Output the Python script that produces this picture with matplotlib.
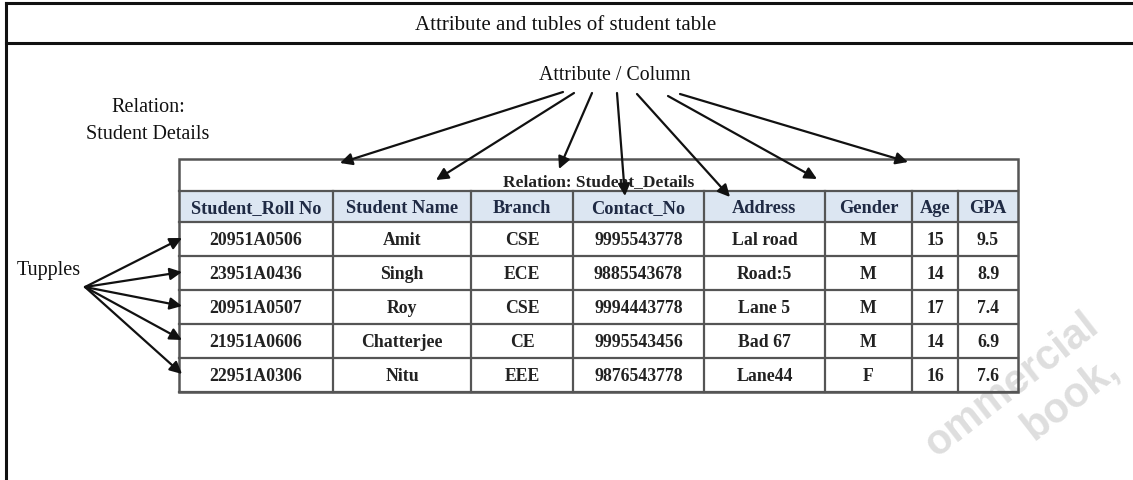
import matplotlib
matplotlib.use("Agg")
import matplotlib.pyplot as plt
from matplotlib.patches import Rectangle

# ---------------- data ----------------
title = "Attribute and tubles of student table"
relation_caption = "Relation: Student_Details"
columns = ["Student_Roll No", "Student Name", "Branch", "Contact_No",
           "Address", "Gender", "Age", "GPA"]
roll_no = ["20951A0506", "23951A0436", "20951A0507", "21951A0606", "22951A0306"]
names = ["Amit", "Singh", "Roy", "Chatterjee", "Nitu"]
branch = ["CSE", "ECE", "CSE", "CE", "EEE"]
contact = ["9995543778", "9885543678", "9994443778", "9995543456", "9876543778"]
address = ["Lal road", "Road:5", "Lane 5", "Bad 67", "Lane44"]
gender = ["M", "M", "M", "M", "F"]
age = ["15", "14", "17", "14", "16"]
gpa = ["9.5", "8.9", "7.4", "6.9", "7.6"]

# ---------------- layout (pixels) ----------------
W, H = 1133, 481
fig = plt.figure(figsize=(W / 100, H / 100), dpi=100)
ax = fig.add_axes([0, 0, 1, 1])
ax.set_xlim(0, W)
ax.set_ylim(H, 0)
ax.axis("off")

SERIF = ["Liberation Serif", "DejaVu Serif"]

# faint watermark (behind everything)
wm = ["Liberation Sans", "DejaVu Sans"]
ax.text(1012, 385, "ommercial", family=wm, fontsize=30, fontweight="bold", rotation=38,
        ha="center", va="center", color="#dedede", zorder=0)
ax.text(1070, 398, "book,", family=wm, fontsize=30, fontweight="bold", rotation=38,
        ha="center", va="center", color="#dedede", zorder=0)

# outer frame
ax.plot([6, 6], [4, H], color="#111", lw=2.2)
ax.plot([6, W], [4, 4], color="#111", lw=2.2)
ax.plot([6, W], [44, 44], color="#111", lw=2.2)
ax.text(566, 26, title, family=SERIF, fontsize=15, ha="center", va="center", color="#111")

# table geometry
col_x = [179, 333, 471, 573, 704, 825, 912, 958, 1018]
t_top, hdr_top = 160, 192
row_y = [223, 257, 291, 325, 359, 393]

# header fill
ax.add_patch(Rectangle((col_x[0], hdr_top), col_x[-1] - col_x[0], row_y[0] - hdr_top,
                       facecolor="#dce6f2", edgecolor="none", zorder=1))
line_c = "#555"
ax.add_patch(Rectangle((col_x[0], t_top), col_x[-1] - col_x[0], row_y[-1] - t_top,
                       facecolor="none", edgecolor=line_c, lw=1.8, zorder=3))
for y in [hdr_top] + row_y:
    ax.plot([col_x[0], col_x[-1]], [y, y], color=line_c, lw=1.6, zorder=3)
for x in col_x[1:-1]:
    ax.plot([x, x], [hdr_top, row_y[-1]], color=line_c, lw=1.6, zorder=3)

ax.text((col_x[0] + col_x[-1]) / 2, 182, relation_caption, family=SERIF, fontsize=12.5,
        fontweight="bold", ha="center", va="center", color="#222", zorder=4)

for i, c in enumerate(columns):
    ax.text((col_x[i] + col_x[i + 1]) / 2, (hdr_top + row_y[0]) / 2 + 1, c, family=SERIF,
            fontsize=13.2, fontweight="bold", ha="center", va="center", color="#1f2a44", zorder=4)

data_cols = [roll_no, names, branch, contact, address, gender, age, gpa]
for r in range(len(roll_no)):
    yc = (row_y[r] + row_y[r + 1]) / 2 + 1
    for j, col in enumerate(data_cols):
        ax.text((col_x[j] + col_x[j + 1]) / 2, yc, col[r], family=SERIF, fontsize=12.8,
                fontweight="bold", ha="center", va="center", color="#222", zorder=4)

# labels
ax.text(615, 76, "Attribute / Column", family=SERIF, fontsize=14.3, ha="center",
        va="center", color="#111")
ax.text(148, 107, "Relation:", family=SERIF, fontsize=14.5, ha="center", va="center", color="#111")
ax.text(148, 135, "Student Details", family=SERIF, fontsize=14.5, ha="center", va="center", color="#111")
ax.text(17, 271, "Tupples", family=SERIF, fontsize=14.5, ha="left", va="center", color="#111")

ap = dict(arrowstyle="-|>", color="#111", lw=1.6, mutation_scale=18, shrinkA=0, shrinkB=0)
attr_arrows = [((563, 93), (340, 164)), ((574, 94), (436, 181)), ((592, 94), (559, 170)),
               ((617, 94), (625, 197)), ((637, 95), (730, 198)), ((668, 97), (817, 180)),
               ((680, 95), (908, 163))]
for (s, e) in attr_arrows:
    ax.annotate("", xy=e, xytext=s, arrowprops=ap, zorder=6)

origin = (85, 288)
for r in range(len(roll_no)):
    yc = (row_y[r] + row_y[r + 1]) / 2
    ax.annotate("", xy=(182, yc - 1), xytext=origin, arrowprops=ap, zorder=6)

fig.savefig("out.png", dpi=100)
